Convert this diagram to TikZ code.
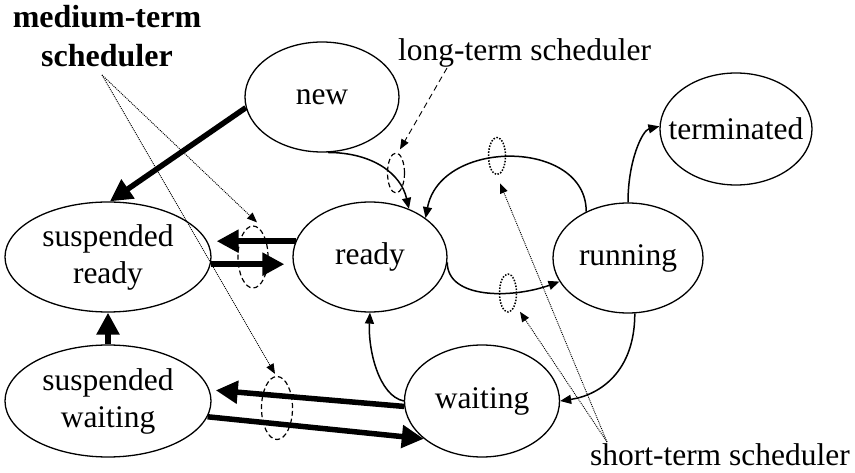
\documentclass[tikz,border=0pt]{standalone}
\usepackage{fontspec}
\setmainfont{Liberation Serif}
\usetikzlibrary{arrows.meta,shapes.geometric,calc}

\begin{document}
\begin{tikzpicture}[x=1pt,y=-1pt,
  stnode/.style={draw, ellipse, line width=1.3pt, inner sep=0pt, align=center,
                 font=\fontsize{31.5}{37}\selectfont},
  thinarrow/.style={line width=1.5pt, -{Triangle[length=11pt,width=9pt]}},
  heavy/.style={line width=5.5pt, -{Triangle[length=22pt,width=22pt]}},
  pointer/.style={line width=0.9pt, dash pattern=on 1pt off 1pt,
                  -{Triangle[length=10pt,width=8pt]}},
  longdash/.style={line width=0.9pt, dash pattern=on 6pt off 4pt,
                  -{Triangle[length=10pt,width=8pt]}},
  dashring/.style={draw, ellipse, line width=1.2pt, dash pattern=on 5pt off 3pt, inner sep=0pt},
  dotring/.style={draw, ellipse, line width=1.5pt, dash pattern=on 1.5pt off 1.5pt, inner sep=0pt},
  txt/.style={font=\fontsize{31.5}{39}\selectfont, inner sep=0pt}
]
\useasboundingbox (0,0) rectangle (855,473);

% process states
\node[stnode, minimum width=154pt, minimum height=110pt] (new) at (322,97) {new};
\node[stnode, minimum width=206pt, minimum height=110pt] (sr) at (108,257) {suspended\\ready};
\node[stnode, minimum width=154pt, minimum height=110pt] (ready) at (370,257) {ready};
\node[stnode, minimum width=206pt, minimum height=112pt] (sw) at (108,401) {suspended\\waiting};
\node[stnode, minimum width=155pt, minimum height=112pt] (wait) at (482,401) {waiting};
\node[stnode, minimum width=150pt, minimum height=110pt] (run) at (628,258) {running};
\node[stnode, minimum width=152pt, minimum height=112pt] (term) at (736,129) {\makebox[0pt]{terminated}};

% scheduler rings on the transitions
\node[dashring, minimum width=30pt, minimum height=62pt] (m1) at (253,257) {};
\node[dashring, minimum width=31pt, minimum height=63pt] (m2) at (277,408) {};
\node[dashring, minimum width=17pt, minimum height=40pt] (lt) at (396,173) {};
\node[dotring, minimum width=17pt, minimum height=37pt] (s1) at (497,156) {};
\node[dotring, minimum width=17pt, minimum height=38pt] (s2) at (508,293) {};

% scheduler labels
\node[txt, font=\bfseries\fontsize{32}{39}\selectfont, align=center, anchor=base] (mt) at (107,67) {medium-term\\scheduler};
\node[txt, anchor=base west] (ltl) at (398,61) {long-term scheduler};
\node[txt, anchor=base east] (stl) at (850,465) {short-term scheduler};

\coordinate (mtp) at (102,75);
\coordinate (ltp) at (447,68);
\coordinate (stp) at (607,442);

% swapping transitions
\draw[heavy] (new.188) -- (sr.88);
\draw[heavy] (ready.168) -- ($(ready.168 -| sr.east)+(5,0)$);
\draw[heavy] (sr.-4) -- ($(sr.-4 -| ready.west)+(-8,0)$);
\draw[heavy] (sw.north) -- (sr.south);
\draw[heavy] (wait.184) -- ($(sw.6)+(6,0)$);
\draw[heavy] (sw.-9) -- (wait.213);

% ordinary transitions
\draw[thinarrow] (new.-84) .. controls +(45,0) and +(-8,-35) .. (ready.51);
\draw[thinarrow] (run.132) .. controls +(0,-73) and +(15,-80) .. (ready.35);
\draw[thinarrow] (ready.-4) .. controls +(0,37) and +(-47,17) .. (run.-161);
\draw[thinarrow] (run.90) .. controls +(0,-42) and +(-17,4) .. (term.178);
\draw[thinarrow] (run.-83) .. controls +(0,58) and +(40,-6) .. (wait.0);
\draw[thinarrow] (wait.180) .. controls +(-25,-5) and +(-2,37) .. (ready.-90);

% scheduler pointers
\draw[pointer] (mtp) -- ($(m1.north)+(4,-3)$);
\draw[pointer] (mtp) -- ($(m2.north)+(-2,-2)$);
\draw[longdash] (ltp) -- ($(lt.north)+(4,-3)$);
\draw[pointer] (stp) -- ($(s1.south)+(3,8)$);
\draw[pointer] (stp) -- ($(s2.south)+(12,-1)$);
\end{tikzpicture}
\end{document}
